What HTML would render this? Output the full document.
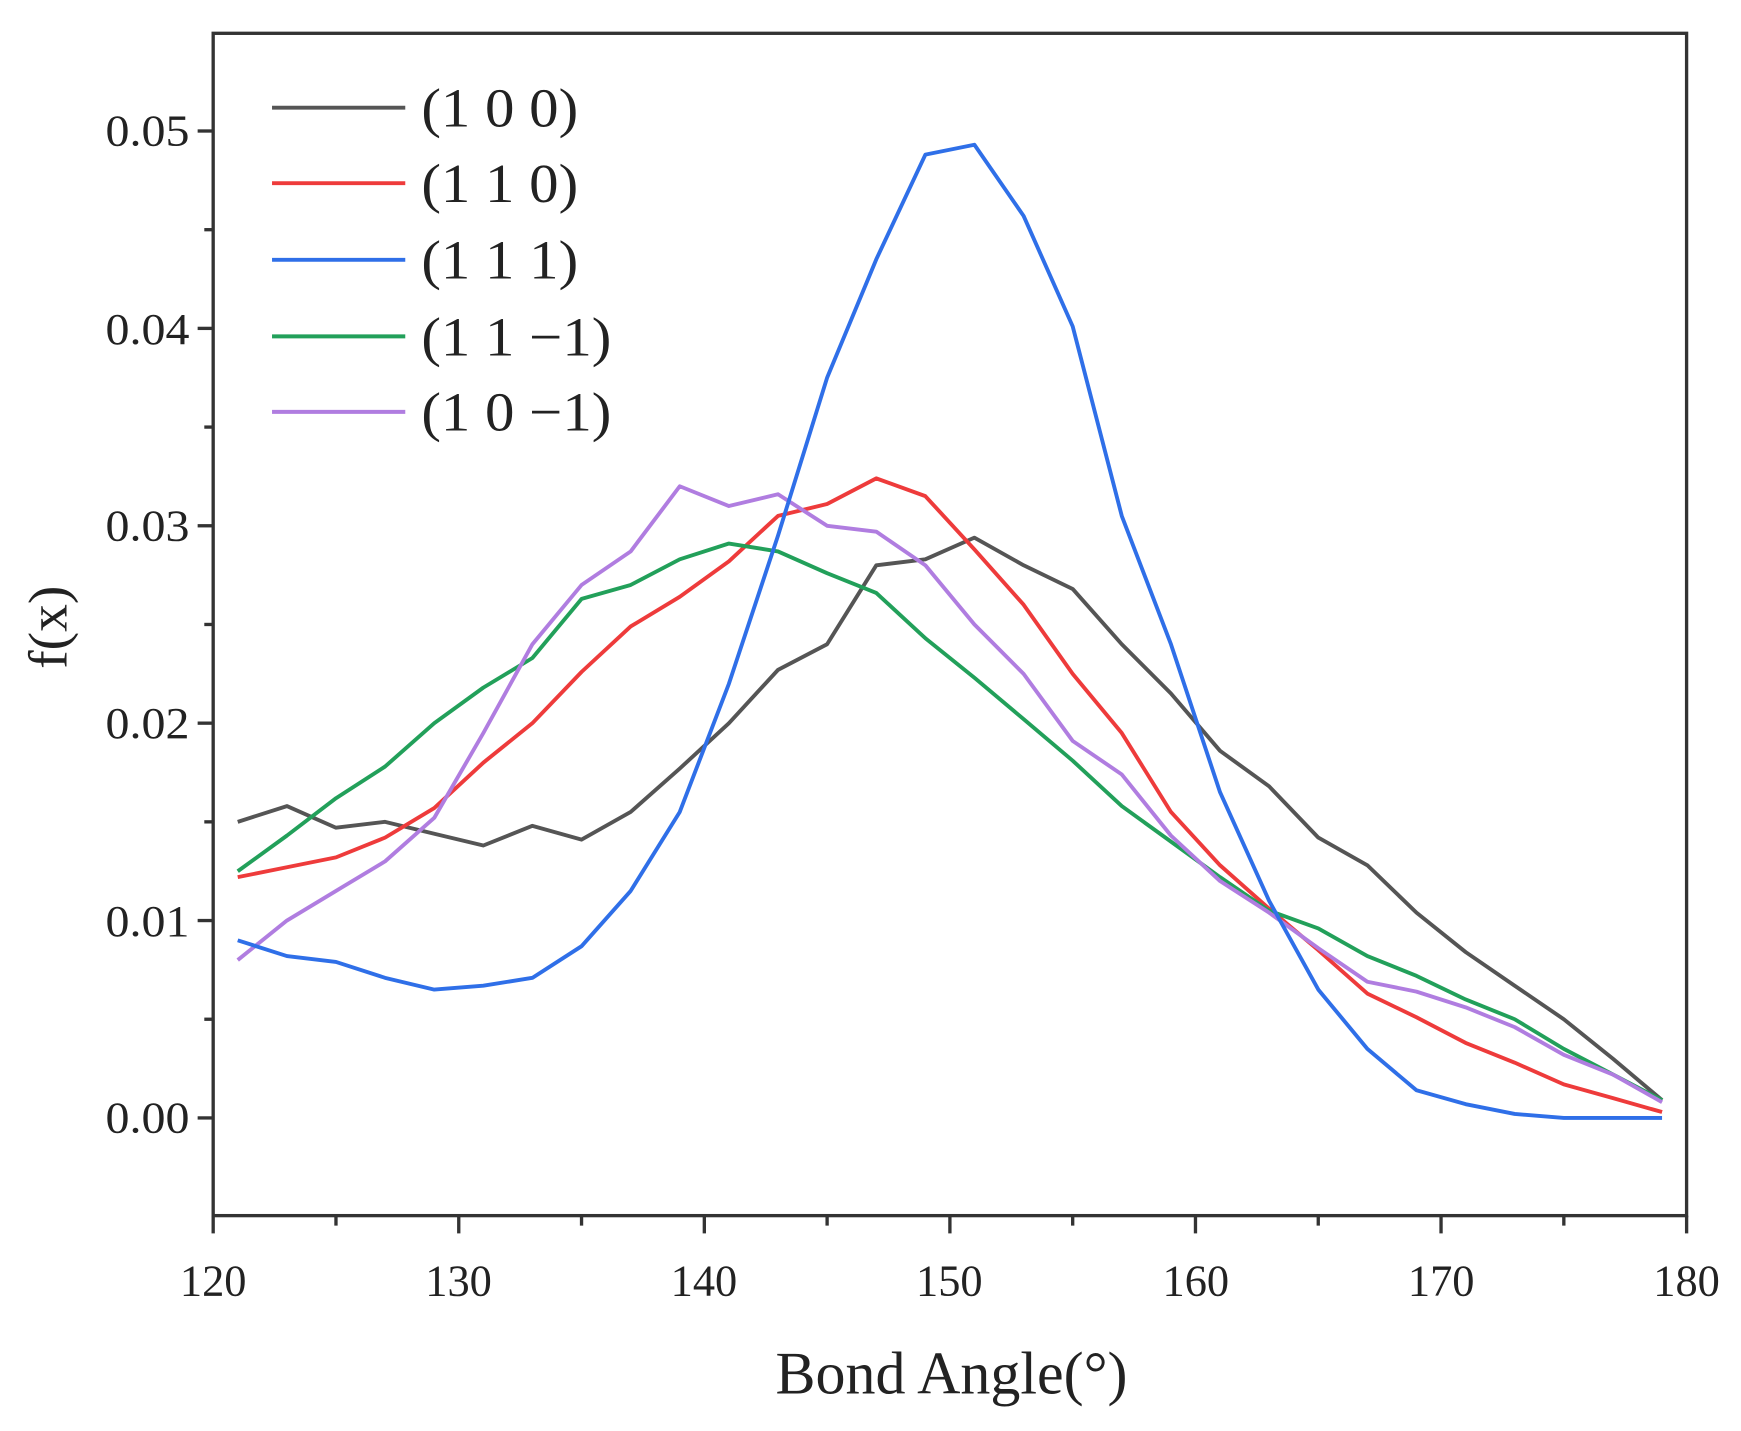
<!DOCTYPE html>
<html><head><meta charset="utf-8"><style>
html,body{margin:0;padding:0;background:#fff;}
svg{display:block;}
text{font-family:"Liberation Serif",serif;fill:#222;}
</style></head><body>
<svg id="s" width="1741" height="1431" viewBox="0 0 1568 1289" preserveAspectRatio="none" xmlns="http://www.w3.org/2000/svg">
<rect x="192" y="30" width="1327" height="1065" fill="none" stroke="#333" stroke-width="3"/>
<g id="ticks" stroke="#333" stroke-width="3"></g>
<g font-size="40" text-anchor="end" transform="scale(1.08,1)">
<text x="158" y="131">0.05</text>
<text x="158" y="310">0.04</text>
<text x="158" y="487">0.03</text>
<text x="158" y="665">0.02</text>
<text x="158" y="843">0.01</text>
<text x="158" y="1020">0.00</text>
</g>
<g font-size="40" text-anchor="middle">
<text x="192" y="1167">120</text>
<text x="413" y="1167">130</text>
<text x="634" y="1167">140</text>
<text x="855" y="1167">150</text>
<text x="1077" y="1167">160</text>
<text x="1298" y="1167">170</text>
<text x="1519" y="1167">180</text>
</g>
<text x="857" y="1255" font-size="54" text-anchor="middle">Bond Angle(°)</text>
<text transform="translate(60,565) rotate(-90)" font-size="50" text-anchor="middle">f(x)</text>
<g id="series" fill="none" stroke-width="3.5" stroke-linejoin="round"></g>
<g stroke-width="3.5">
<line x1="245" y1="97" x2="365" y2="97" stroke="#555"/>
<line x1="245" y1="165" x2="365" y2="165" stroke="#ee3b3b"/>
<line x1="245" y1="234" x2="365" y2="234" stroke="#2f6fe8"/>
<line x1="245" y1="303" x2="365" y2="303" stroke="#22a05a"/>
<line x1="245" y1="371" x2="365" y2="371" stroke="#b07de0"/>
</g>
<g font-size="50" transform="scale(1.06,1)">
<text x="358" y="114">(1 0 0)</text>
<text x="358" y="182">(1 1 0)</text>
<text x="358" y="251">(1 1 1)</text>
<text x="358" y="320">(1 1 −1)</text>
<text x="358" y="388">(1 0 −1)</text>
</g>
</svg>
<script>
var NS="http://www.w3.org/2000/svg";
function X(v){return 192+(v-120)*22.117;}
function Y(v){return 1007-v*17780;}
var t=document.getElementById("ticks");
function ln(x1,y1,x2,y2){var l=document.createElementNS(NS,"line");l.setAttribute("x1",x1);l.setAttribute("y1",y1);l.setAttribute("x2",x2);l.setAttribute("y2",y2);t.appendChild(l);}
for(var i=-1;i<=11;i++){var v=i*0.005,y=Y(v);if(y<30||y>1095)continue;ln(192,y,192-(i%2==0?14:8),y);}
for(var x=120;x<=180;x+=5){var px=X(x);ln(px,1095,px,1095+(x%10==0?16:9));}
var data={
"#555":[0.0150,0.0158,0.0147,0.0150,0.0144,0.0138,0.0148,0.0141,0.0155,0.0177,0.0200,0.0227,0.0240,0.0280,0.0283,0.0294,0.0280,0.0268,0.0240,0.0215,0.0186,0.0168,0.0142,0.0128,0.0104,0.0084,0.0067,0.0050,0.0030,0.0009],
"#ee3b3b":[0.0122,0.0127,0.0132,0.0142,0.0157,0.0180,0.0200,0.0226,0.0249,0.0264,0.0282,0.0305,0.0311,0.0324,0.0315,0.0288,0.0260,0.0225,0.0195,0.0155,0.0128,0.0106,0.0085,0.0063,0.0051,0.0038,0.0028,0.0017,0.0010,0.0003],
"#22a05a":[0.0125,0.0143,0.0162,0.0178,0.0200,0.0218,0.0233,0.0263,0.0270,0.0283,0.0291,0.0287,0.0276,0.0266,0.0243,0.0223,0.0202,0.0181,0.0158,0.0140,0.0122,0.0105,0.0096,0.0082,0.0072,0.0060,0.0050,0.0035,0.0022,0.0009],
"#b07de0":[0.0080,0.0100,0.0115,0.0130,0.0152,0.0195,0.0240,0.0270,0.0287,0.0320,0.0310,0.0316,0.0300,0.0297,0.0280,0.0250,0.0225,0.0191,0.0174,0.0143,0.0120,0.0104,0.0086,0.0069,0.0064,0.0056,0.0046,0.0032,0.0022,0.0008],
"#2f6fe8":[0.0090,0.0082,0.0079,0.0071,0.0065,0.0067,0.0071,0.0087,0.0115,0.0155,0.0220,0.0295,0.0375,0.0435,0.0488,0.0493,0.0457,0.0401,0.0305,0.0240,0.0165,0.0110,0.0065,0.0035,0.0014,0.0007,0.0002,0,0,0]
};
var g=document.getElementById("series");
for(var c in data){var p=data[c].map(function(v,i){return X(121+2*i).toFixed(1)+","+Y(v).toFixed(1);}).join(" ");
var pl=document.createElementNS(NS,"polyline");pl.setAttribute("points",p);pl.setAttribute("stroke",c);g.appendChild(pl);}
</script>
</body></html>
